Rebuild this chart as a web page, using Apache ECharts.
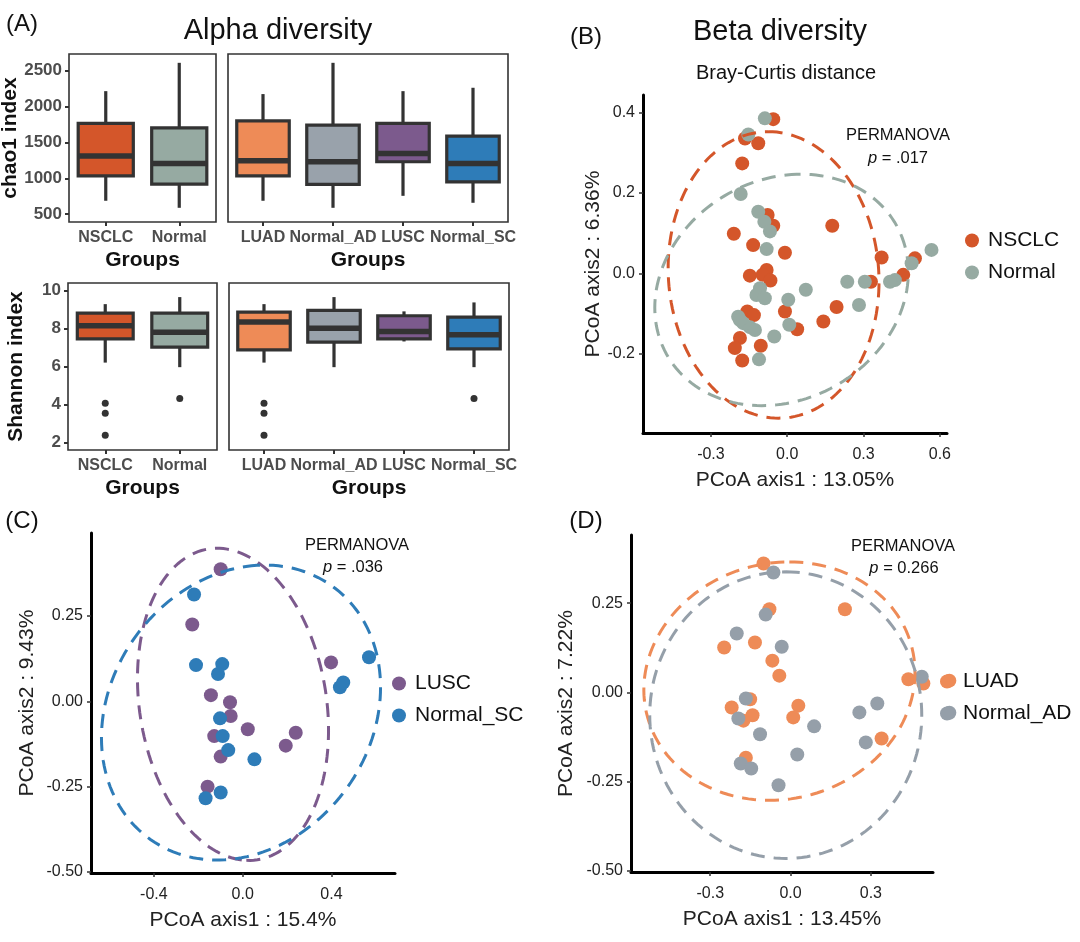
<!DOCTYPE html>
<html>
<head>
<meta charset="utf-8">
<script src="https://cdn.jsdelivr.net/npm/echarts@6/dist/echarts.min.js"></script>
<style>
html,body{margin:0;padding:0;background:#fff;}
#chart{width:1080px;height:942px;}
</style>
</head>
<body>
<div id="chart"></div>
<script>
// ---------------- DATA ----------------
const groupsOverall = ['NSCLC', 'Normal'];
const groupsSub = ['LUAD', 'Normal_AD', 'LUSC', 'Normal_SC'];

// boxplot stats: [lower whisker, Q1, median, Q3, upper whisker]
const chao1Overall = [[686, 1034, 1309, 1765, 2215], [588, 918, 1207, 1704, 2610]];
const chao1Sub = [[686, 1034, 1243, 1801, 2174], [588, 914, 1230, 1741, 2610], [755, 1230, 1347, 1765, 2215], [658, 950, 1207, 1588, 2262]];
const shannonOverall = [[6.21, 7.46, 8.14, 8.81, 9.28], [5.97, 7.02, 7.81, 8.81, 9.65]];
const shannonSub = [[6.21, 6.88, 8.34, 8.86, 9.28], [5.97, 7.28, 8.02, 8.95, 9.65], [7.32, 7.46, 7.84, 8.67, 8.90], [5.97, 6.93, 7.67, 8.60, 9.37]];
// outliers: [group index, value]
const shannonOutliersOverall = [[0, 4.07], [0, 3.55], [0, 2.39], [1, 4.32]];
const shannonOutliersSub = [[0, 4.07], [0, 3.55], [0, 2.39], [3, 4.32]];

const chao1Ticks = [500, 1000, 1500, 2000, 2500];
const shannonTicks = [2, 4, 6, 8, 10];

// PCoA (B) NSCLC vs Normal
const pcoaNSCLC = [[-0.055,0.383],[-0.166,0.335],[-0.114,0.323],[-0.177,0.273],[-0.21,0.098],[-0.077,0.145],[-0.055,0.118],[-0.134,0.070],[-0.009,0.051],[0.177,0.118],[-0.147,-0.006],[-0.081,0.008],[-0.097,-0.004],[-0.066,-0.018],[0.371,0.039],[0.502,0.037],[0.456,-0.004],[0.329,-0.021],[-0.157,-0.095],[-0.131,-0.104],[-0.009,-0.095],[0.039,-0.139],[0.142,-0.120],[0.194,-0.084],[-0.186,-0.161],[-0.206,-0.186],[-0.104,-0.180],[-0.177,-0.217]];
const pcoaNormal = [[-0.088,0.385],[-0.153,0.345],[-0.183,0.197],[-0.114,0.153],[-0.090,0.128],[-0.068,0.104],[-0.081,0.060],[0.567,0.058],[0.489,0.025],[0.423,-0.017],[0.404,-0.021],[0.305,-0.021],[0.236,-0.021],[0.073,-0.041],[-0.107,-0.037],[-0.121,-0.054],[-0.088,-0.062],[0.004,-0.066],[0.282,-0.079],[-0.193,-0.108],[-0.173,-0.124],[-0.147,-0.134],[-0.127,-0.141],[0.008,-0.128],[-0.051,-0.157],[-0.111,-0.214],[-0.186,-0.116]];
// PCoA (C) LUSC vs Normal_SC
const pcoaLUSC = [[-0.099,0.387],[-0.227,0.225],[0.398,0.114],[-0.143,0.018],[-0.057,-0.003],[-0.054,-0.043],[0.023,-0.082],[-0.128,-0.102],[0.239,-0.092],[0.194,-0.130],[-0.099,-0.162],[-0.158,-0.250]];
const pcoaNormalSC = [[-0.219,0.313],[-0.210,0.106],[-0.092,0.109],[-0.111,0.080],[0.569,0.129],[0.438,0.041],[0.453,0.055],[-0.102,-0.050],[-0.090,-0.102],[-0.065,-0.143],[0.053,-0.170],[-0.099,-0.267],[-0.167,-0.284]];
// PCoA (D) LUAD vs Normal_AD
const pcoaLUAD = [[-0.101,0.361],[-0.079,0.233],[0.203,0.233],[-0.248,0.126],[-0.133,0.140],[-0.068,0.089],[-0.042,0.047],[0.440,0.037],[0.496,0.025],[0.593,0.033],[-0.220,-0.042],[-0.151,-0.019],[-0.142,-0.064],[-0.176,-0.079],[0.029,-0.037],[0.010,-0.070],[0.340,-0.129],[-0.167,-0.183]];
const pcoaNormalAD = [[-0.064,0.336],[-0.093,0.218],[-0.201,0.165],[-0.033,0.128],[0.490,0.044],[0.593,-0.057],[0.324,-0.031],[0.257,-0.056],[-0.167,-0.017],[-0.195,-0.073],[-0.114,-0.117],[0.088,-0.095],[0.281,-0.140],[0.025,-0.174],[-0.186,-0.199],[-0.147,-0.213],[-0.045,-0.260]];

// 95% ellipses: [centerX, centerY, u.x, u.y, v.x, v.y] (conjugate semi-axes)
const ellipseB = [[-0.0537, -0.0041, -0.0197, 0.356, 0.414, 0.0], [-0.0223, -0.0414, 0.0197, 0.2857, 0.498, 0.0331]];
const ellipseC = [[-0.0435, -0.0089, 0.060, -0.457, 0.426, -0.012], [-0.0075, -0.033, 0.0225, 0.428, 0.628, 0.0586]];
const ellipseD = [[-0.0417, 0.0317, 0.037, 0.334, 0.505, 0.0], [-0.018, -0.0636, 0.0, 0.4015, 0.508, 0.0]];

const ticksBx = [-0.3, 0, 0.3, 0.6], ticksBy = [-0.2, 0, 0.2, 0.4];
const ticksCx = [-0.4, 0, 0.4], ticksCy = [-0.5, -0.25, 0, 0.25];
const ticksDx = [-0.3, 0, 0.3], ticksDy = [-0.5, -0.25, 0, 0.25];

// ---------------- STYLE ----------------
const FONT = '"Liberation Sans", Arial, Helvetica, sans-serif';
const colOverall = ['#D4562A', '#96AAA2'];
const colSub = ['#EE8B57', '#99A2AB', '#7C5A8D', '#2E7CB8'];
const colB = ['#D4562A', '#96AAA2'];
const colC = ['#7C5A8D', '#2E7CB8'];
const colD = ['#EE8B57', '#959FA9'];

const chart = echarts.init(document.getElementById('chart'), null, {renderer: 'canvas'});

const boxGrid = {show: true, borderColor: '#333', borderWidth: 1.6, backgroundColor: 'transparent', containLabel: false, outerBoundsMode: 'none'};
const grids = [
  Object.assign({left: 69, top: 54, width: 147, height: 168}, boxGrid),
  Object.assign({left: 228, top: 54, width: 280, height: 168}, boxGrid),
  Object.assign({left: 68, top: 283, width: 149, height: 167}, boxGrid),
  Object.assign({left: 229, top: 283, width: 280, height: 167}, boxGrid),
  {left: 643, top: 95, width: 304, height: 338, containLabel: false, outerBoundsMode: 'none'},
  {left: 91, top: 533, width: 304, height: 340, containLabel: false, outerBoundsMode: 'none'},
  {left: 631, top: 535, width: 302, height: 337, containLabel: false, outerBoundsMode: 'none'}
];

function catAxis(gi, cats) {
  return {
    type: 'category', gridIndex: gi, data: cats,
    axisLine: {show: false}, splitLine: {show: false},
    axisTick: {show: true, alignWithLabel: true, length: 4, lineStyle: {color: '#333', width: 2}},
    axisLabel: {show: true, margin: 8, color: '#4D4D4D', fontWeight: 'bold', fontSize: 16, fontFamily: FONT, interval: 0},
    name: 'Groups', nameLocation: 'middle', nameGap: 28,
    nameTextStyle: {color: '#111', fontWeight: 'bold', fontSize: 21, fontFamily: FONT}
  };
}
function boxYAxis(gi, min, max, ticks, name) {
  const show = !!name;
  return {
    type: 'value', gridIndex: gi, min: min, max: max,
    splitLine: {show: false}, axisLine: {show: false},
    axisTick: {show: show, length: 4, lineStyle: {color: '#333', width: 2}, customValues: ticks},
    axisLabel: {show: show, margin: 7, color: '#4D4D4D', fontWeight: 'bold', fontSize: 17, fontFamily: FONT, customValues: ticks,
      formatter: v => String(v)},
    name: name || '', nameLocation: 'middle', nameGap: 41, nameRotate: 90,
    nameTextStyle: {color: '#111', fontWeight: 'bold', fontSize: 21, fontFamily: FONT}
  };
}
function valAxis(gi, min, max, ticks, digits, name, nameGap, isY) {
  return {
    type: 'value', gridIndex: gi, min: min, max: max,
    splitLine: {show: false},
    axisLine: {show: true, onZero: false, lineStyle: {color: '#000', width: 3}},
    axisTick: {show: true, length: 4, lineStyle: {color: '#333', width: 1.5}, customValues: ticks},
    axisLabel: {show: true, margin: isY ? 8 : 14, color: '#222', fontSize: 16, fontFamily: FONT, customValues: ticks,
      formatter: v => Number(v).toFixed(digits)},
    name: name, nameLocation: 'middle', nameGap: nameGap, nameRotate: isY ? 90 : 0,
    nameTextStyle: {color: '#222', fontSize: 21, fontFamily: FONT}
  };
}

const xAxes = [
  catAxis(0, groupsOverall), catAxis(1, groupsSub), catAxis(2, groupsOverall), catAxis(3, groupsSub),
  valAxis(4, -0.567, 0.628, ticksBx, 1, 'PCoA axis1 : 13.05%', 37, false),
  valAxis(5, -0.683, 0.686, ticksCx, 1, 'PCoA axis1 : 15.4%', 37, false),
  valAxis(6, -0.596, 0.532, ticksDx, 1, 'PCoA axis1 : 13.45%', 37, false)
];
const yAxes = [
  boxYAxis(0, 390, 2733, chao1Ticks, 'chao1 index'), boxYAxis(1, 390, 2733, chao1Ticks, null),
  boxYAxis(2, 1.62, 10.39, shannonTicks, 'Shannon index'), boxYAxis(3, 1.62, 10.39, shannonTicks, null),
  valAxis(4, -0.397, 0.443, ticksBy, 1, 'PCoA axis2 : 6.36%', 35, true),
  valAxis(5, -0.503, 0.493, ticksCy, 2, 'PCoA axis2 : 9.43%', 53, true),
  valAxis(6, -0.503, 0.441, ticksDy, 2, 'PCoA axis2 : 7.22%', 54, true)
];

function boxSeries(ai, stats, colors) {
  return {
    type: 'custom', xAxisIndex: ai, yAxisIndex: ai, z: 3,
    encode: {x: 0, y: [1, 2, 3, 4, 5]},
    data: stats.map((s, i) => [i].concat(s).concat([i])),
    renderItem: function (params, api) {
      const x = api.value(0);
      const lo = api.coord([x, api.value(1)]);
      const q1 = api.coord([x, api.value(2)]);
      const md = api.coord([x, api.value(3)]);
      const q3 = api.coord([x, api.value(4)]);
      const hi = api.coord([x, api.value(5)]);
      const w = api.size([1, 0])[0] * 0.75;
      const c = colors[api.value(6)];
      const ln = {stroke: '#333', lineWidth: 3.2};
      return {type: 'group', children: [
        {type: 'line', shape: {x1: lo[0], y1: lo[1], x2: q1[0], y2: q1[1]}, style: ln},
        {type: 'line', shape: {x1: q3[0], y1: q3[1], x2: hi[0], y2: hi[1]}, style: ln},
        {type: 'rect', shape: {x: q1[0] - w / 2, y: q3[1], width: w, height: q1[1] - q3[1]}, style: {fill: c, stroke: '#333', lineWidth: 3.2}},
        {type: 'line', shape: {x1: md[0] - w / 2, y1: md[1], x2: md[0] + w / 2, y2: md[1]}, style: {stroke: '#333', lineWidth: 5.5}}
      ]};
    }
  };
}
function outlierSeries(ai, pts) {
  return {type: 'scatter', xAxisIndex: ai, yAxisIndex: ai, data: pts, symbolSize: 7, z: 4,
    itemStyle: {color: '#333', opacity: 1}, silent: true};
}
function pointSeries(name, ai, pts, color) {
  return {type: 'scatter', name: name, xAxisIndex: ai, yAxisIndex: ai, data: pts, symbolSize: 14, clip: false, z: 3,
    itemStyle: {color: color, opacity: 1}, emphasis: {disabled: true}};
}
function ellipseSeries(ai, ells, colors) {
  return {
    type: 'custom', xAxisIndex: ai, yAxisIndex: ai, z: 5, silent: true, clip: false,
    data: ells.map((e, i) => e.concat([i])),
    renderItem: function (params, api) {
      const v = [0, 1, 2, 3, 4, 5, 6].map(k => api.value(k));
      const pts = [];
      const N = 160;
      for (let k = 0; k <= N; k++) {
        const t = k / N * Math.PI * 2;
        pts.push(api.coord([v[0] + v[2] * Math.cos(t) + v[4] * Math.sin(t), v[1] + v[3] * Math.cos(t) + v[5] * Math.sin(t)]));
      }
      return {type: 'polyline', shape: {points: pts}, style: {stroke: colors[v[6]], fill: null, lineWidth: 3, lineDash: [14, 9]}};
    }
  };
}

function legendAt(left, top, names) {
  return {orient: 'vertical', left: left, top: top, data: names, icon: 'circle', itemWidth: 22, itemHeight: 14,
    itemGap: 11, selectedMode: false, padding: 0,
    textStyle: {fontSize: 21, fontFamily: FONT, color: '#111', lineHeight: 20, padding: [0, 0, 0, 0]}};
}

function txt(x, y, text, size, extra) {
  return {type: 'text', x: x, y: y, silent: true,
    style: Object.assign({text: text, fontSize: size, fontFamily: FONT, fill: '#111', align: 'center', verticalAlign: 'middle'}, extra || {})};
}
function pText(x, y, val) {
  return {type: 'text', x: x, y: y, silent: true,
    style: {text: '{i|p} = ' + val, fontSize: 16.5, fontFamily: FONT, fill: '#111', align: 'center', verticalAlign: 'middle',
      rich: {i: {fontStyle: 'italic', fontSize: 16.5, fontFamily: FONT, fill: '#111'}}}};
}

const option = {
  backgroundColor: '#fff',
  animation: false,
  grid: grids,
  xAxis: xAxes,
  yAxis: yAxes,
  legend: [legendAt(965, 230, ['NSCLC', 'Normal']), legendAt(392, 673, ['LUSC', 'Normal_SC']), legendAt(940, 671, ['LUAD', 'Normal_AD'])],
  series: [
    boxSeries(0, chao1Overall, colOverall),
    boxSeries(1, chao1Sub, colSub),
    boxSeries(2, shannonOverall, colOverall),
    boxSeries(3, shannonSub, colSub),
    outlierSeries(2, shannonOutliersOverall),
    outlierSeries(3, shannonOutliersSub),
    pointSeries('NSCLC', 4, pcoaNSCLC, colB[0]),
    pointSeries('Normal', 4, pcoaNormal, colB[1]),
    ellipseSeries(4, ellipseB, colB),
    pointSeries('LUSC', 5, pcoaLUSC, colC[0]),
    pointSeries('Normal_SC', 5, pcoaNormalSC, colC[1]),
    ellipseSeries(5, ellipseC, colC),
    pointSeries('LUAD', 6, pcoaLUAD, colD[0]),
    pointSeries('Normal_AD', 6, pcoaNormalAD, colD[1]),
    ellipseSeries(6, ellipseD, colD)
  ],
  graphic: [
    txt(22, 24, '(A)', 24),
    txt(278, 31, 'Alpha diversity', 29),
    txt(586, 37, '(B)', 24),
    txt(780, 32, 'Beta diversity', 29),
    txt(786, 73, 'Bray-Curtis distance', 20),
    txt(898, 135, 'PERMANOVA', 16.5),
    pText(898, 158, '.017'),
    txt(22, 521, '(C)', 24),
    txt(357, 545, 'PERMANOVA', 16.5),
    pText(353, 567, '.036'),
    txt(586, 521, '(D)', 24),
    txt(903, 546, 'PERMANOVA', 16.5),
    pText(904, 568, '0.266')
  ]
};
chart.setOption(option);
</script>
</body>
</html>
